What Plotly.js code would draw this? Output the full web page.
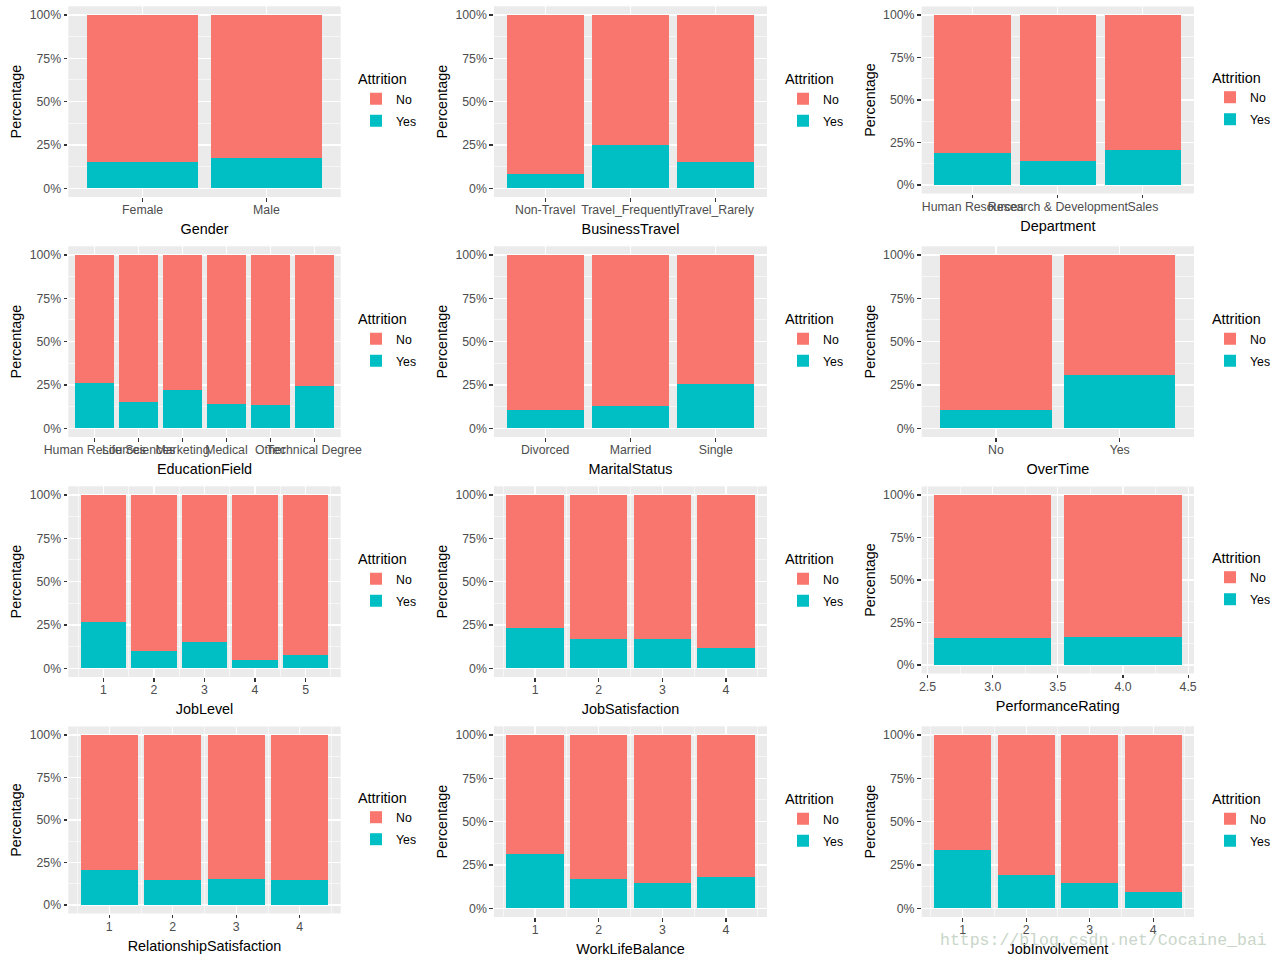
<!DOCTYPE html>
<html><head><meta charset="utf-8">
<script src="https://cdn.plot.ly/plotly-3.0.1.min.js"></script>
<style>html,body{margin:0;padding:0;background:#fff;}#chart{width:1280px;height:960px;}</style>
</head><body><div id="chart"></div>
<script>
// ---- Data (percent of employees with Attrition = Yes / No in each group) ----
const genderCats = ['Female', 'Male'];
const genderYes = [15.2, 17.4];
const genderNo = [84.8, 82.6];

const travelCats = ['Non-Travel', 'Travel_Frequently', 'Travel_Rarely'];
const travelYes = [8.4, 24.8, 15.2];
const travelNo = [91.6, 75.2, 84.8];

const deptCats = ['Human Resources', 'Research & Development', 'Sales'];
const deptYes = [18.8, 14.1, 20.8];
const deptNo = [81.2, 85.9, 79.2];

const eduCats = ['Human Resources', 'Life Sciences', 'Marketing', 'Medical', 'Other', 'Technical Degree'];
const eduYes = [26.2, 15.2, 22.1, 14.0, 13.5, 24.6];
const eduNo = [73.8, 84.8, 77.9, 86.0, 86.5, 75.4];

const maritalCats = ['Divorced', 'Married', 'Single'];
const maritalYes = [10.6, 13.0, 25.6];
const maritalNo = [89.4, 87.0, 74.4];

const overtimeCats = ['No', 'Yes'];
const overtimeYes = [10.6, 30.8];
const overtimeNo = [89.4, 69.2];

const jobLevelVals = [1, 2, 3, 4, 5];
const jobLevelYes = [26.7, 10.0, 15.2, 4.8, 7.7];
const jobLevelNo = [73.3, 90.0, 84.8, 95.2, 92.3];

const jobSatVals = [1, 2, 3, 4];
const jobSatYes = [23.4, 16.9, 16.9, 11.9];
const jobSatNo = [76.6, 83.1, 83.1, 88.1];

const perfVals = [3, 4];
const perfYes = [16.1, 16.5];
const perfNo = [83.9, 83.5];

const relSatVals = [1, 2, 3, 4];
const relSatYes = [20.8, 14.9, 15.3, 14.9];
const relSatNo = [79.2, 85.1, 84.7, 85.1];

const wlbVals = [1, 2, 3, 4];
const wlbYes = [31.5, 16.9, 14.6, 18.1];
const wlbNo = [68.5, 83.1, 85.4, 81.9];

const jobInvVals = [1, 2, 3, 4];
const jobInvYes = [33.8, 19.2, 14.6, 9.4];
const jobInvNo = [66.2, 80.8, 85.4, 90.6];

const yTickVals = [0, 25, 50, 75, 100];
const yTickText = ['0%', '25%', '50%', '75%', '100%'];
const legendTitle = 'Attrition';
const yTitle = 'Percentage';

// ---- Panels built from the named arrays ----
const panels = [
  {name: 'Gender', x: genderCats, yes: genderYes, no: genderNo, kind: 'cat'},
  {name: 'BusinessTravel', x: travelCats, yes: travelYes, no: travelNo, kind: 'cat'},
  {name: 'Department', x: deptCats, yes: deptYes, no: deptNo, kind: 'cat'},
  {name: 'EducationField', x: eduCats, yes: eduYes, no: eduNo, kind: 'cat'},
  {name: 'MaritalStatus', x: maritalCats, yes: maritalYes, no: maritalNo, kind: 'cat'},
  {name: 'OverTime', x: overtimeCats, yes: overtimeYes, no: overtimeNo, kind: 'cat'},
  {name: 'JobLevel', x: jobLevelVals, yes: jobLevelYes, no: jobLevelNo, kind: 'int'},
  {name: 'JobSatisfaction', x: jobSatVals, yes: jobSatYes, no: jobSatNo, kind: 'int'},
  {name: 'PerformanceRating', x: perfVals, yes: perfYes, no: perfNo, kind: 'half'},
  {name: 'RelationshipSatisfaction', x: relSatVals, yes: relSatYes, no: relSatNo, kind: 'int'},
  {name: 'WorkLifeBalance', x: wlbVals, yes: wlbYes, no: wlbNo, kind: 'int'},
  {name: 'JobInvolvement', x: jobInvVals, yes: jobInvYes, no: jobInvNo, kind: 'int'}
];

// ---- Geometry (pixels on the 1280x960 page) ----
const W = 1280, H = 960;
const colX = [[68.3, 340.7], [494, 767], [921.7, 1194]];
const panelY = [[15, 188.3], [15, 188.3], [15, 185],
                [255, 428.3], [255, 428.3], [255, 428.3],
                [495, 668.3], [495, 668.3], [495, 665],
                [735, 905], [735, 908.3], [735, 908.3]];
const legendX = [356, 783, 1210];

const COL_NO = '#F8766D', COL_YES = '#00BFC4';
const FONT = 'Liberation Sans, Arial, sans-serif';
const TICK_SIZE = 12.3, TITLE_SIZE = 14.4;

const data = [];
const layout = {
  width: W, height: H,
  margin: {l: 0, r: 0, t: 0, b: 0},
  paper_bgcolor: '#FFFFFF',
  plot_bgcolor: '#EBEBEB',
  barmode: 'stack',
  bargap: 0.1,
  hovermode: false,
  font: {family: FONT, color: '#000000'},
  showlegend: true,
  annotations: []
};

panels.forEach((p, i) => {
  const n = i + 1;
  const xid = n === 1 ? 'x' : 'x' + n;
  const yid = n === 1 ? 'y' : 'y' + n;
  const lid = n === 1 ? 'legend' : 'legend' + n;
  const col = i % 3;
  const [y100, y0] = panelY[i];
  const span = y0 - y100;
  const top = y100 - 0.05 * span, bot = y0 + 0.05 * span;

  data.push({type: 'bar', x: p.x, y: p.yes, name: 'Yes', marker: {color: COL_YES, line: {width: 0}},
             xaxis: xid, yaxis: yid, legend: lid, legendrank: 2, legendgroup: 'yes' + n});
  data.push({type: 'bar', x: p.x, y: p.no, name: 'No', marker: {color: COL_NO, line: {width: 0}},
             xaxis: xid, yaxis: yid, legend: lid, legendrank: 1, legendgroup: 'no' + n});

  const xa = {
    domain: [colX[col][0] / W, colX[col][1] / W],
    anchor: yid,
    showgrid: true, gridcolor: '#FFFFFF', gridwidth: 1.1,
    zeroline: false, showline: false,
    ticks: 'outside', ticklen: 3.7, tickwidth: 1.1, tickcolor: '#333333',
    ticklabelstandoff: -2,
    tickangle: 0,
    tickfont: {family: FONT, size: TICK_SIZE, color: '#4D4D4D'},
    title: {text: p.name, font: {family: FONT, size: TITLE_SIZE, color: '#000000'}, standoff: 7},
    fixedrange: true
  };
  if (p.kind === 'cat') {
    xa.type = 'category';
    xa.range = [-0.6, p.x.length - 0.4];
  } else if (p.kind === 'int') {
    const lo = p.x[0] - 0.45, hi = p.x[p.x.length - 1] + 0.45, e = 0.05 * (hi - lo);
    xa.type = 'linear';
    xa.range = [lo - e, hi + e];
    xa.tick0 = 0; xa.dtick = 1;
    xa.minor = {dtick: 0.5, tick0: 0, showgrid: true, gridcolor: '#FFFFFF', gridwidth: 0.55, ticks: ''};
  } else {
    const lo = p.x[0] - 0.45, hi = p.x[p.x.length - 1] + 0.45, e = 0.05 * (hi - lo);
    xa.type = 'linear';
    xa.range = [lo - e, hi + e];
    xa.tick0 = 0; xa.dtick = 0.5; xa.tickformat = '.1f';
    xa.minor = {dtick: 0.25, tick0: 0, showgrid: true, gridcolor: '#FFFFFF', gridwidth: 0.55, ticks: ''};
  }
  layout[n === 1 ? 'xaxis' : 'xaxis' + n] = xa;

  layout[n === 1 ? 'yaxis' : 'yaxis' + n] = {
    domain: [1 - bot / H, 1 - top / H],
    anchor: xid,
    range: [-5, 105],
    tickmode: 'array', tickvals: yTickVals, ticktext: yTickText,
    showgrid: true, gridcolor: '#FFFFFF', gridwidth: 1.1,
    minor: {dtick: 12.5, tick0: 0, showgrid: true, gridcolor: '#FFFFFF', gridwidth: 0.55, ticks: ''},
    zeroline: false, showline: false,
    ticks: 'outside', ticklen: 3.7, tickwidth: 1.1, tickcolor: '#333333',
    tickfont: {family: FONT, size: TICK_SIZE, color: '#4D4D4D'},
    title: {text: yTitle, font: {family: FONT, size: TITLE_SIZE, color: '#000000'}, standoff: 4},
    fixedrange: true
  };

  layout[lid] = {
    x: legendX[col] / W, xanchor: 'left',
    y: 1 - ((top + bot) / 2 - 1) / H, yanchor: 'middle',
    bgcolor: 'rgba(0,0,0,0)', borderwidth: 0,
    traceorder: 'grouped', tracegroupgap: 3,
    itemwidth: 30, itemclick: false, itemdoubleclick: false,
    font: {family: FONT, size: TICK_SIZE, color: '#000000'},
    title: {text: legendTitle, side: 'top', font: {family: FONT, size: TITLE_SIZE, color: '#000000'}}
  };
});

layout.annotations.push({
  text: 'https://blog.csdn.net/Cocaine_bai',
  xref: 'paper', yref: 'paper', x: 938 / W, y: 1 - 940 / H,
  xanchor: 'left', yanchor: 'middle', showarrow: false,
  font: {family: 'Liberation Mono, Courier New, monospace', size: 16.5, color: '#C9D6C9'}
});

Plotly.newPlot('chart', data, layout, {staticPlot: true, displayModeBar: false});
</script>
</body></html>
